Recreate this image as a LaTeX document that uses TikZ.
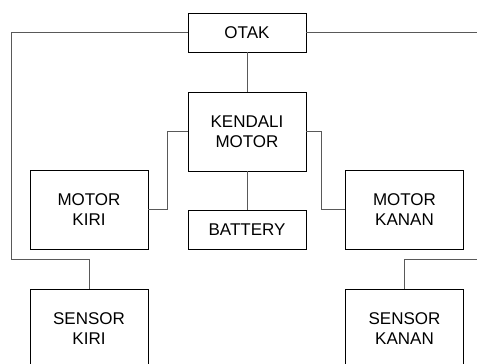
\documentclass[tikz,border=0pt]{standalone}
\usepackage{fontspec}
\setmainfont{Liberation Sans}
\usetikzlibrary{positioning,calc}

\begin{document}
\begin{tikzpicture}[x=1pt, y=-1pt,
    blok/.style={draw=black, line width=0.9pt, minimum width=118pt, align=center,
                 inner sep=0pt, font=\fontsize{17}{20}\selectfont},
    pendek/.style={blok, minimum height=39pt},
    tinggi/.style={blok, minimum height=79pt},
    link/.style={draw=black!65, line width=0.9pt}]
  % Page size matching the reference
  \useasboundingbox (0,0) rectangle (477,364);

  % Middle column
  \node[pendek] (otak) at (247,32.5) {OTAK};
  \node[tinggi] (kendali) at (247,131.5) {KENDALI\\MOTOR};
  \node[pendek] (battery) at (247,229.5) {BATTERY};

  % Motors on both sides
  \node[tinggi] (motorkiri) at (89,209.5) {MOTOR\\KIRI};
  \node[tinggi] (motorkanan) at (404.5,209.5) {MOTOR\\KANAN};

  % Sensors (cut at the bottom edge)
  \node[tinggi] (sensorkiri) at (89,328.5) {SENSOR\\KIRI};
  \node[tinggi] (sensorkanan) at (404.5,328.5) {SENSOR\\KANAN};

  % Bends and free ends of the outer lines
  \coordinate (kirijalur) at (11,259);
  \coordinate (kananatas) at (477,32.5);
  \coordinate (kananbawah) at (477,259);

  % Connectors
  \draw[link] (otak.south) -- (kendali.north);
  \draw[link] (kendali.south) -- (battery.north);
  \draw[link] (kendali.west) -- ++(-20,0) |- (motorkiri.east);
  \draw[link] (kendali.east) -- ++(15,0) |- (motorkanan.west);
  \draw[link] (otak.west) -| (kirijalur) -| (sensorkiri.north);
  \draw[link] (otak.east) -- (kananatas);
  \draw[link] (sensorkanan.north) |- (kananbawah);
\end{tikzpicture}
\end{document}
